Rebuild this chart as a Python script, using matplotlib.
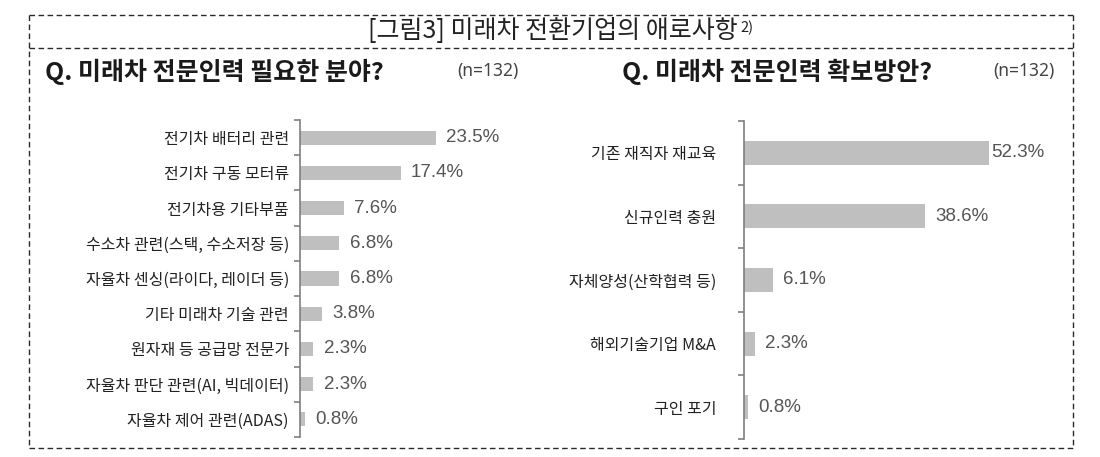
import matplotlib
matplotlib.use("Agg")
import matplotlib.pyplot as plt
from matplotlib.lines import Line2D
import numpy as np

plt.rcParams['font.family'] = ['Noto Sans CJK KR', 'DejaVu Sans']

# ---- data ----
title_main = "[그림3] 미래차 전환기업의 애로사항"
title_sup = "2)"
left_title = "Q. 미래차 전문인력 필요한 분야?"
right_title = "Q. 미래차 전문인력 확보방안?"
n_label = "(n=132)"

left_cats = ["전기차 배터리 관련", "전기차 구동 모터류", "전기차용 기타부품",
             "수소차 관련(스택, 수소저장 등)", "자율차 센싱(라이다, 레이더 등)",
             "기타 미래차 기술 관련", "원자재 등 공급망 전문가",
             "자율차 판단 관련(AI, 빅데이터)", "자율차 제어 관련(ADAS)"]
left_vals = [23.5, 17.4, 7.6, 6.8, 6.8, 3.8, 2.3, 2.3, 0.8]

right_cats = ["기존 재직자 재교육", "신규인력 충원", "자체양성(산학협력 등)",
              "해외기술기업 M&A", "구인 포기"]
right_vals = [52.3, 38.6, 6.1, 2.3, 0.8]

W, H = 1100, 457
fig = plt.figure(figsize=(W / 100, H / 100), dpi=100)
fig.patch.set_facecolor('white')

def fx(x):
    return x / W

def fy(y):
    return 1 - y / H

# ---- dashed frame ----
frame_kw = dict(color='#2a2a2a', lw=1.0, ls=(0, (4, 2.5)))
fig.add_artist(Line2D([fx(29), fx(1073)], [fy(15), fy(15)], transform=fig.transFigure, **frame_kw))
fig.add_artist(Line2D([fx(29), fx(1073)], [fy(48), fy(48)], transform=fig.transFigure, **frame_kw))
fig.add_artist(Line2D([fx(29), fx(1073)], [fy(448), fy(448)], transform=fig.transFigure, **frame_kw))
fig.add_artist(Line2D([fx(29), fx(29)], [fy(15), fy(448)], transform=fig.transFigure, **frame_kw))
fig.add_artist(Line2D([fx(1073), fx(1073)], [fy(15), fy(448)], transform=fig.transFigure, **frame_kw))

# ---- titles ----
fig.text(fx(738), fy(31), title_main, ha='right', va='center', fontsize=18,
         color='#222222')
fig.text(fx(740), fy(28), title_sup, ha='left', va='center', fontsize=10.5,
         color='#222222')

fig.text(fx(45), fy(72), left_title, ha='left', va='center', fontsize=18,
         fontweight='bold', color='#1a1a1a')
fig.text(fx(518), fy(71), n_label, ha='right', va='center', fontsize=12.5,
         color='#444444', family=['Noto Sans', 'DejaVu Sans'])
fig.text(fx(622), fy(72), right_title, ha='left', va='center', fontsize=18,
         fontweight='bold', color='#1a1a1a')
fig.text(fx(1055), fy(71), n_label, ha='right', va='center', fontsize=12.5,
         color='#444444', family=['Noto Sans', 'DejaVu Sans'])


def draw_panel(left_px, top_px, bottom_px, xmax, px_per_unit, cats, vals,
               bar_h, label_pad, tight_first):
    width_px = xmax * px_per_unit
    ax = fig.add_axes([fx(left_px), fy(bottom_px), width_px / W,
                       (bottom_px - top_px) / H])
    n = len(cats)
    y = np.arange(n)
    ax.barh(y, vals, height=bar_h, color='#bfbfbf', edgecolor='none')
    ax.set_xlim(0, xmax)
    ax.set_ylim(n - 0.5, -0.5)
    for s in ['top', 'right', 'bottom']:
        ax.spines[s].set_visible(False)
    ax.spines['left'].set_color('#7f7f7f')
    ax.spines['left'].set_linewidth(1.2)
    ax.set_xticks([])
    ax.set_yticks(y)
    ax.set_yticklabels(cats, fontsize=11.5, color='#222222')
    ax.tick_params(axis='y', which='major', length=0, pad=label_pad)
    ax.set_yticks(np.arange(n + 1) - 0.5, minor=True)
    ax.tick_params(axis='y', which='minor', length=4, width=1.2,
                   color='#7f7f7f', direction='out')
    vmax = max(vals)
    for yi, v in zip(y, vals):
        off = 1.5 if (tight_first and v == vmax) else 7.5
        ax.annotate(f"{v:.1f}%", (v, yi), xytext=(off, 0),
                    textcoords='offset points', ha='left', va='center',
                    fontsize=13.5, color='#555555',
                    family=['Liberation Sans', 'DejaVu Sans'])
    ax.patch.set_alpha(0)
    return ax

draw_panel(300, 120, 437, 40, 5.78, left_cats, left_vals, 0.4, 8, False)
draw_panel(744, 121, 439, 70, 4.685, right_cats, right_vals, 0.38, 20, True)

fig.savefig('out.png', dpi=100, facecolor='white')
